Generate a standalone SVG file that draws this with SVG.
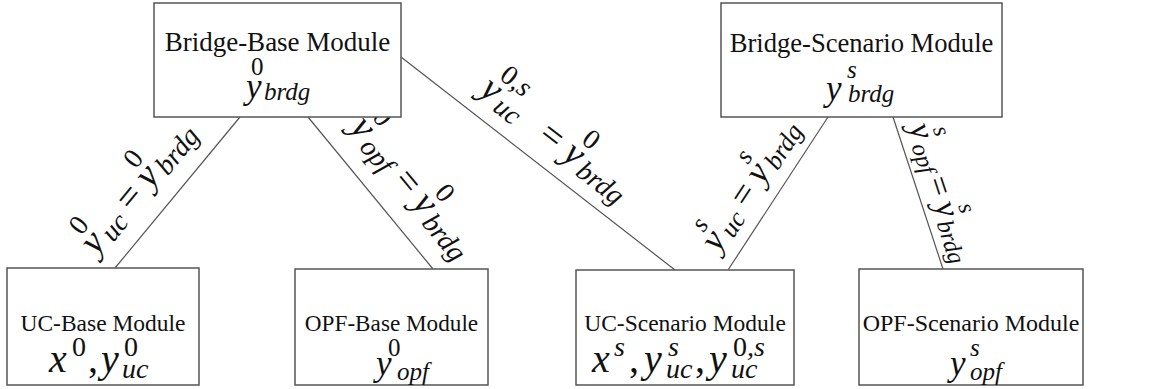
<svg xmlns="http://www.w3.org/2000/svg" width="1151" height="389" viewBox="0 0 1151 389">
<style>
.box{fill:#fff;stroke:#555;stroke-width:1.5}
.lbl{font-family:"Liberation Serif","Times New Roman",serif;font-size:23.5px;fill:#111;text-anchor:middle}
.big{font-size:27px}
.m{font-family:"Liberation Serif","Times New Roman",serif;font-style:italic;font-size:35px;fill:#111}
.mu{font-family:"Liberation Serif","Times New Roman",serif;font-size:35px;fill:#111}
.s{font-family:"Liberation Serif","Times New Roman",serif;font-style:italic;font-size:25px;fill:#111}
.n{font-family:"Liberation Serif","Times New Roman",serif;font-size:25px;fill:#111}
.L .m,.L .mu{font-size:38px}
.L .s,.L .n{font-size:28px}
.M .m,.M .mu{font-size:36px}
.M .s,.M .n{font-size:26px}
.K .m,.K .mu{font-size:34px}
.K .s,.K .n{font-size:24px}
.U .m,.U .mu{font-size:40px}
.U .s,.U .n{font-size:28px}
.edge{stroke:#555;stroke-width:1.2;fill:none}
</style>
<rect width="1151" height="389" fill="#fff"/>
<g id="connectors">
<line class="edge" x1="240" y1="117" x2="115" y2="268"/>
<line class="edge" x1="308" y1="117" x2="433" y2="269"/>
<line class="edge" x1="401" y1="57" x2="675" y2="270"/>
<line class="edge" x1="828" y1="117" x2="728" y2="270"/>
<line class="edge" x1="893" y1="117" x2="943" y2="269"/>
</g>
<g id="edge-labels">
<g class="L" transform="translate(96,256) rotate(-50.6)">
<text class="m" x="0" y="0">y</text><text class="n" x="6" y="-24">0</text><text class="s" x="21" y="5">uc</text>
<text class="mu" x="56" y="0">=</text>
<text class="m" x="86" y="0">y</text><text class="n" x="92" y="-24">0</text><text class="s" x="107" y="5">brdg</text>
</g>
<g class="L" transform="translate(349,128) rotate(50.6)">
<text class="m" x="0" y="0">y</text><text class="n" x="6" y="-24">0</text><text class="s" x="21" y="5">opf</text>
<text class="mu" x="68" y="0">=</text>
<text class="m" x="98" y="0">y</text><text class="n" x="104" y="-24">0</text><text class="s" x="119" y="5">brdg</text>
</g>
<g class="L" transform="translate(478,93) rotate(37.9)">
<text class="m" x="0" y="0">y</text><text class="n" x="7" y="-24">0<tspan class="s">,s</tspan></text><text class="s" x="21" y="5">uc</text>
<text class="mu" x="74" y="0">=</text>
<text class="m" x="105" y="0">y</text><text class="n" x="111" y="-24">0</text><text class="s" x="126" y="5">brdg</text>
</g>
<g class="M" transform="translate(718,253) rotate(-56.8)">
<text class="m" x="0" y="0">y</text><text class="s" x="9" y="-23">s</text><text class="s" x="20" y="5">uc</text>
<text class="mu" x="53" y="0">=</text>
<text class="m" x="81" y="0">y</text><text class="s" x="90" y="-23">s</text><text class="s" x="101" y="5">brdg</text>
</g>
<g class="K" transform="translate(909,127) rotate(71.8)">
<text class="m" x="0" y="0">y</text><text class="s" x="9" y="-22">s</text><text class="s" x="19" y="4">opf</text>
<text class="mu" x="56" y="0">=</text>
<text class="m" x="82" y="0">y</text><text class="s" x="90" y="-22">s</text><text class="s" x="100" y="4">brdg</text>
</g>
</g>
<g id="bridge-base">
<rect class="box" x="154" y="3" width="247" height="114"/>
<text class="lbl big" x="277.5" y="51">Bridge-Base Module</text>
<text class="m" x="246" y="98">y</text><text class="n" x="251" y="75">0</text><text class="s" x="264" y="100">brdg</text>
</g>
<g id="bridge-scenario">
<rect class="box" x="721" y="3" width="281" height="114"/>
<text class="lbl" style="font-size:26.6px" x="861.5" y="52">Bridge-Scenario Module</text>
<text class="m" x="826" y="100">y</text><text class="s" x="847" y="78">s</text><text class="s" x="848" y="102">brdg</text>
</g>
<g id="uc-base" class="U">
<rect class="box" x="7" y="268" width="192" height="117"/>
<text class="lbl" x="103" y="331">UC-Base Module</text>
<text class="m" x="49" y="372">x</text><text class="n" x="72" y="356">0</text><text class="mu" x="88" y="372">,</text>
<text class="m" x="101" y="372">y</text><text class="n" x="124" y="356">0</text><text class="s" x="122" y="378">uc</text>
</g>
<g id="opf-base">
<rect class="box" x="295" y="269" width="193" height="116"/>
<text class="lbl" style="font-size:23.2px" x="391.5" y="331">OPF-Base Module</text>
<text class="m" x="376" y="375">y</text><text class="n" x="388" y="356">0</text><text class="s" x="397" y="380">opf</text>
</g>
<g id="uc-scenario" class="U">
<rect class="box" x="576" y="270" width="218" height="115"/>
<text class="lbl" x="685" y="331">UC-Scenario Module</text>
<text class="m" x="592" y="372">x</text><text class="s" x="614" y="356">s</text><text class="mu" x="629" y="372">,</text>
<text class="m" x="644" y="372">y</text><text class="s" x="668" y="356">s</text><text class="s" x="666" y="378">uc</text><text class="mu" x="695" y="372">,</text>
<text class="m" x="709" y="372">y</text><text class="n" x="733" y="356">0<tspan class="s">,s</tspan></text><text class="s" x="731" y="378">uc</text>
</g>
<g id="opf-scenario">
<rect class="box" x="859" y="269" width="224" height="116"/>
<text class="lbl" style="font-size:24px" x="971" y="331">OPF-Scenario Module</text>
<text class="m" x="950" y="375">y</text><text class="s" x="970" y="356">s</text><text class="s" x="970" y="380">opf</text>
</g>
</svg>
